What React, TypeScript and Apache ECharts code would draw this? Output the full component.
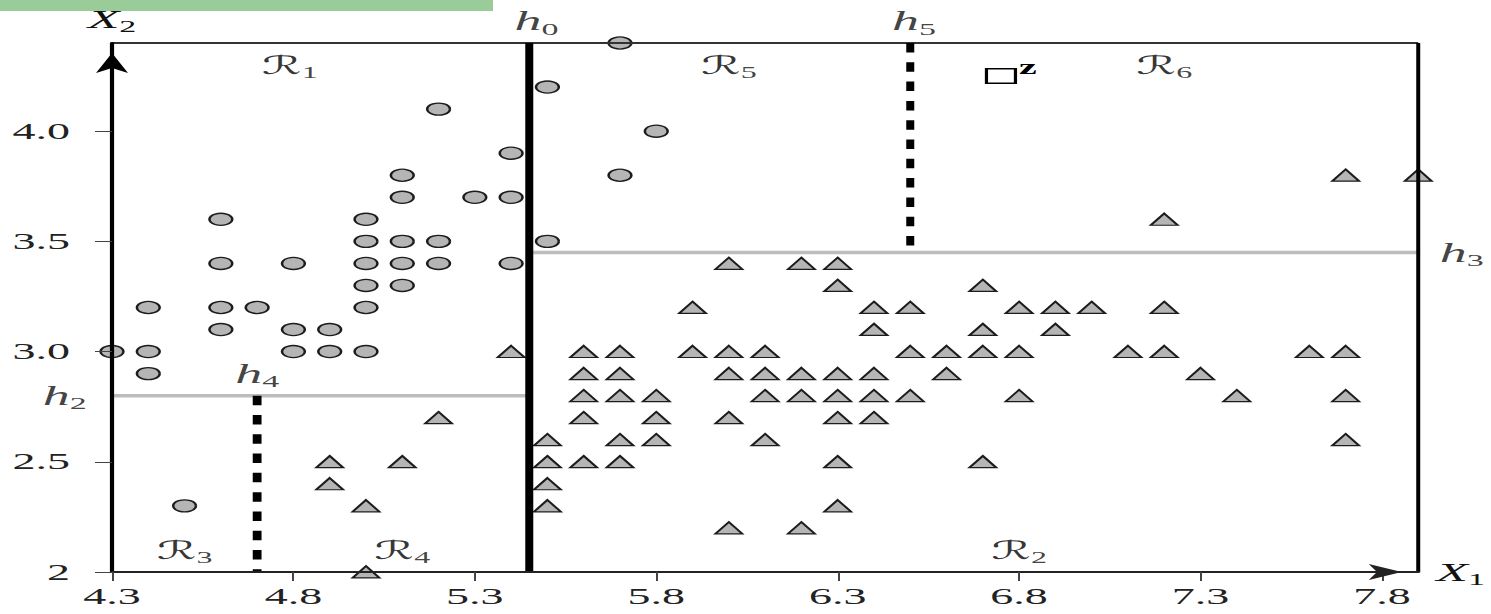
import React, { useEffect, useRef } from "react";
import * as echarts from "echarts";

// The reference figure is stretched horizontally by about 2x; the chart is
// drawn at half width and stretched with a CSS transform.
const STRETCH = 2;
const WIDTH = 1491 / STRETCH;
const HEIGHT = 614;

const xMin = 4.3;
const xMax = 7.9;
const yMin = 2.0;
const yMax = 4.4;

const xTicks = [4.3, 4.8, 5.3, 5.8, 6.3, 6.8, 7.3, 7.8];
const xTickLabels = ["4.3", "4.8", "5.3", "5.8", "6.3", "6.8", "7.3", "7.8"];
const yTicks = [2, 2.5, 3, 3.5, 4];
const yTickLabels = ["2", "2.5", "3.0", "3.5", "4.0"];

// class 1 (circles): [X1, X2]
const circlePoints = [
  [4.3, 3.0], [4.4, 3.2], [4.4, 3.0], [4.4, 2.9], [4.5, 2.3],
  [4.6, 3.6], [4.6, 3.4], [4.6, 3.2], [4.6, 3.1], [4.7, 3.2],
  [4.8, 3.4], [4.8, 3.1], [4.8, 3.0], [4.9, 3.1], [4.9, 3.0],
  [5.0, 3.6], [5.0, 3.5], [5.0, 3.4], [5.0, 3.3], [5.0, 3.2], [5.0, 3.0],
  [5.1, 3.8], [5.1, 3.7], [5.1, 3.5], [5.1, 3.4], [5.1, 3.3],
  [5.2, 4.1], [5.2, 3.5], [5.2, 3.4], [5.3, 3.7],
  [5.4, 3.9], [5.4, 3.7], [5.4, 3.4], [5.5, 4.2], [5.5, 3.5],
  [5.7, 4.4], [5.7, 3.8], [5.8, 4.0],
];

// class 2 (triangles): [X1, X2]
const trianglePoints = [
  [4.9, 2.5], [4.9, 2.4], [5.0, 2.3], [5.0, 2.0], [5.1, 2.5], [5.2, 2.7], [5.4, 3.0],
  [5.5, 2.6], [5.5, 2.5], [5.5, 2.4], [5.5, 2.3],
  [5.6, 3.0], [5.6, 2.9], [5.6, 2.8], [5.6, 2.7], [5.6, 2.5],
  [5.7, 3.0], [5.7, 2.9], [5.7, 2.8], [5.7, 2.6], [5.7, 2.5],
  [5.8, 2.8], [5.8, 2.7], [5.8, 2.6],
  [5.9, 3.2], [5.9, 3.0],
  [6.0, 3.4], [6.0, 3.0], [6.0, 2.9], [6.0, 2.7], [6.0, 2.2],
  [6.1, 3.0], [6.1, 2.9], [6.1, 2.8], [6.1, 2.6],
  [6.2, 3.4], [6.2, 2.9], [6.2, 2.8], [6.2, 2.2],
  [6.3, 3.4], [6.3, 3.3], [6.3, 2.9], [6.3, 2.8], [6.3, 2.7], [6.3, 2.5], [6.3, 2.3],
  [6.4, 3.2], [6.4, 3.1], [6.4, 2.9], [6.4, 2.8], [6.4, 2.7],
  [6.5, 3.2], [6.5, 3.0], [6.5, 2.8],
  [6.6, 3.0], [6.6, 2.9],
  [6.7, 3.3], [6.7, 3.1], [6.7, 3.0], [6.7, 2.5],
  [6.8, 3.2], [6.8, 3.0], [6.8, 2.8],
  [6.9, 3.2], [6.9, 3.1],
  [7.0, 3.2],
  [7.1, 3.0],
  [7.2, 3.6], [7.2, 3.2], [7.2, 3.0],
  [7.3, 2.9], [7.4, 2.8],
  [7.6, 3.0],
  [7.7, 3.8], [7.7, 3.0], [7.7, 2.8], [7.7, 2.6],
  [7.9, 3.8],
];

// query point z
const queryPoint = [6.75, 4.25];

// split segments (tree partition)
const h0Segment = [[5.45, 2.0], [5.45, 4.4]];
const h5Segment = [[6.5, 4.4], [6.5, 3.45]];
const h4Segment = [[4.7, 2.8], [4.7, 2.0]];
const h2Segment = [[4.3, 2.8], [5.45, 2.8]];
const h3Segment = [[5.45, 3.45], [7.9, 3.45]];
const topBorder = [[4.3, 4.4], [7.9, 4.4]];
const rightBorder = [[7.9, 2.0], [7.9, 4.4]];

// annotation labels
const splitLabelNames = ["0", "5", "2", "3", "4"];
const splitLabelX = [5.47, 6.51, 4.17, 8.02, 4.7];
const splitLabelY = [4.5, 4.5, 2.8, 3.45, 2.9];

const regionLabelNames = ["1", "2", "3", "4", "5", "6"];
const regionLabelX = [4.79, 6.8, 4.5, 5.1, 6.0, 7.2];
const regionLabelY = [4.3, 2.1, 2.1, 2.1, 4.3, 4.3];

const SERIF = "Liberation Serif, Times New Roman, serif";
const MARK_FILL = "#b5b5b5";
const MARK_EDGE = "#1c1c1c";
const SPLIT_GRAY = "#bdbdbd";

const richItalic = (size: number) => ({
  fontFamily: SERIF,
  fontStyle: "italic",
  fontSize: size,
  lineHeight: size + 6,
  color: "#111",
});
const richSub = (size: number) => ({
  fontFamily: SERIF,
  fontSize: size,
  lineHeight: size - 2,
  verticalAlign: "bottom",
  color: "#111",
});

function segmentSeries(data: number[][], color: string, width: number, type: any = "solid") {
  return {
    type: "line",
    data,
    symbol: "none",
    clip: false,
    silent: true,
    z: 6,
    lineStyle: { color, width, type, cap: "butt" },
  };
}

function buildOption(): any {
  return {
    animation: false,
    backgroundColor: "#ffffff",
    textStyle: { fontFamily: SERIF },
    graphic: [
      {
        type: "rect",
        left: 0,
        top: 0,
        shape: { width: 493 / STRETCH, height: 11 },
        style: { fill: "#99cc99" },
      },
    ],
    grid: { left: 56, right: WIDTH - 710, top: 43, bottom: 42, containLabel: false },
    xAxis: {
      type: "value",
      min: xMin,
      max: xMax,
      z: 10,
      splitLine: { show: false },
      name: "{x|X}{s|1}",
      nameLocation: "end",
      nameGap: 9,
      nameTextStyle: { rich: { x: richItalic(26), s: richSub(17) } },
      axisLine: {
        onZero: false,
        lineStyle: { color: "#222", width: 2 },
        symbol: ["none", "arrow"],
        symbolSize: [12, 16.5],
        symbolOffset: [0, -8.25],
      },
      axisTick: { show: true, length: 9, customValues: xTicks, lineStyle: { color: "#444", width: 1 } },
      axisLabel: {
        customValues: xTicks,
        margin: 13,
        fontSize: 23,
        fontFamily: SERIF,
        color: "#222",
        formatter: (v: number) => {
          const i = xTicks.findIndex((t) => Math.abs(t - v) < 1e-6);
          return i >= 0 ? xTickLabels[i] : "";
        },
      },
    },
    yAxis: {
      type: "value",
      min: yMin,
      max: yMax,
      z: 10,
      splitLine: { show: false },
      name: "{x|X}{s|2}",
      nameLocation: "end",
      nameGap: 8,
      nameTextStyle: { rich: { x: richItalic(26), s: richSub(17) } },
      axisLine: {
        onZero: false,
        lineStyle: { color: "#000", width: 2.1 },
        symbol: ["none", "arrow"],
        symbolSize: [12, 20],
        symbolOffset: [0, -10],
      },
      axisTick: { show: true, length: 8.5, customValues: yTicks, lineStyle: { color: "#444", width: 1 } },
      axisLabel: {
        customValues: yTicks,
        margin: 21,
        fontSize: 23,
        fontFamily: SERIF,
        color: "#222",
        formatter: (v: number) => {
          const i = yTicks.findIndex((t) => Math.abs(t - v) < 1e-6);
          return i >= 0 ? yTickLabels[i] : "";
        },
      },
    },
    series: [
      {
        type: "scatter",
        name: "class 1",
        data: circlePoints,
        symbol: "circle",
        symbolSize: [11.4, 12],
        clip: false,
        z: 3,
        itemStyle: { color: MARK_FILL, borderColor: MARK_EDGE, borderWidth: 1.3, opacity: 1 },
      },
      {
        type: "scatter",
        name: "class 2",
        data: trianglePoints,
        symbol: "triangle",
        symbolSize: [13.5, 11.8],
        clip: false,
        z: 3,
        itemStyle: { color: MARK_FILL, borderColor: MARK_EDGE, borderWidth: 1.3, opacity: 1 },
      },
      {
        type: "scatter",
        name: "z",
        data: [queryPoint],
        symbol: "rect",
        symbolSize: [14.5, 14.5],
        clip: false,
        z: 4,
        itemStyle: { color: "#ffffff", borderColor: "#000", borderWidth: 1.6, opacity: 1 },
        label: {
          show: true,
          formatter: "z",
          position: "right",
          distance: 1,
          offset: [0, -9],
          fontFamily: SERIF,
          fontWeight: "bold",
          fontSize: 20,
          color: "#000",
        },
      },
      segmentSeries(h2Segment, SPLIT_GRAY, 3.5),
      segmentSeries(h3Segment, SPLIT_GRAY, 3.5),
      segmentSeries(topBorder, "#333", 2),
      segmentSeries(rightBorder, "#000", 2),
      segmentSeries(h0Segment, "#000", 4),
      segmentSeries(h5Segment, "#000", 4, [9.5, 9.8]),
      segmentSeries(h4Segment, "#000", 4.4, [9.5, 9.8]),
      {
        type: "scatter",
        name: "split labels",
        data: splitLabelNames.map((n, i) => ({ name: n, value: [splitLabelX[i], splitLabelY[i]] })),
        symbol: "circle",
        symbolSize: 1,
        clip: false,
        silent: true,
        z: 8,
        itemStyle: { color: "rgba(0,0,0,0)" },
        label: {
          show: true,
          position: "inside",
          formatter: (p: any) => `{h|h}{s|${p.name}}`,
          rich: { h: richItalic(27), s: richSub(17) },
        },
      },
      {
        type: "scatter",
        name: "region labels",
        data: regionLabelNames.map((n, i) => ({ name: n, value: [regionLabelX[i], regionLabelY[i]] })),
        symbol: "circle",
        symbolSize: 1,
        clip: false,
        silent: true,
        z: 8,
        itemStyle: { color: "rgba(0,0,0,0)" },
        label: {
          show: true,
          position: "inside",
          formatter: (p: any) => `{r|ℛ}{s|${p.name}}`,
          rich: {
            r: { fontFamily: "DejaVu Serif, DejaVu Sans, serif", fontSize: 25, lineHeight: 30, color: "#000" },
            s: richSub(16),
          },
        },
      },
    ],
  };
}

export default function App() {
  const ref = useRef<HTMLDivElement>(null);
  useEffect(() => {
    if (!ref.current) return;
    const chart = echarts.init(ref.current, null, { renderer: "svg", width: WIDTH, height: HEIGHT });
    chart.setOption(buildOption());
    return () => chart.dispose();
  }, []);
  return (
    <div
      ref={ref}
      style={{
        position: "fixed",
        left: 0,
        top: 0,
        width: WIDTH,
        height: HEIGHT,
        transform: `scaleX(${STRETCH})`,
        transformOrigin: "0 0",
        background: "#fff",
      }}
    />
  );
}
